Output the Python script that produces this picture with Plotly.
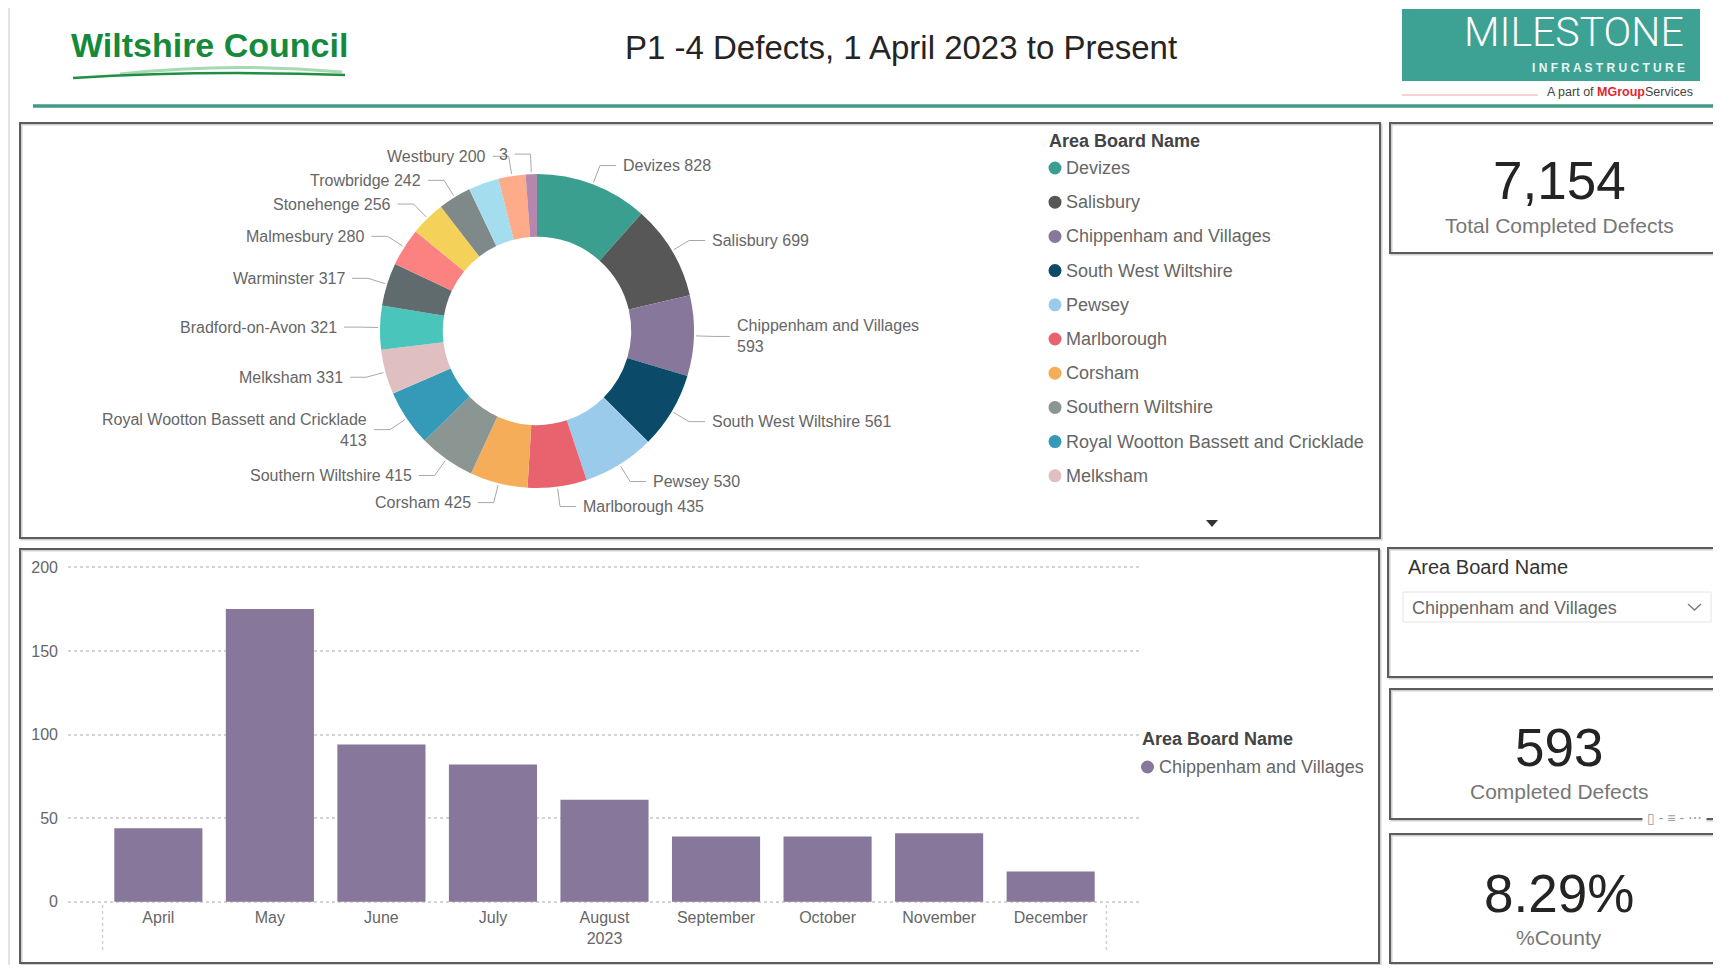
import math
import plotly.graph_objects as go

# Page is photographed at 1721x973; the default body margin (8px) is kept,
# so the figure is sized to fit inside it exactly.
PAGE_W, PAGE_H = 1721, 973
OX, OY = 8, 8
W, H = PAGE_W - 2 * OX, PAGE_H - 2 * OY

# ---------------- data ----------------
area_names = [
    "Devizes", "Salisbury", "Chippenham and Villages", "South West Wiltshire",
    "Pewsey", "Marlborough", "Corsham", "Southern Wiltshire",
    "Royal Wootton Bassett and Cricklade", "Melksham", "Bradford-on-Avon",
    "Warminster", "Malmesbury", "Stonehenge", "Trowbridge", "Calne",
    "Westbury", "Tidworth",
]
area_defects = [828, 699, 593, 561, 530, 435, 425, 415, 413, 331, 321, 317,
                280, 256, 242, 225, 200, 83]
area_colors = [
    "#3B9F8F", "#575757", "#87789B", "#0C4A6A", "#9BCBEB", "#E9636E",
    "#F5AD5A", "#8B9692", "#3599B8", "#DFBFBF", "#4AC5BB", "#5F6B6D",
    "#FB8281", "#F4D25A", "#7F898A", "#A4DDEE", "#FDAB89", "#B687AC",
]
hidden_labels = ["Calne"]
label_text_override = {"Tidworth": "3"}
legend_visible_count = 10

months = ["April", "May", "June", "July", "August", "September",
          "October", "November", "December"]
month_ticktext = ["April", "May", "June", "July", "August<br>2023",
                  "September", "October", "November", "December"]
chippenham_monthly = [44, 175, 94, 82, 61, 39, 39, 41, 18]
y_tickvals = [0, 50, 100, 150, 200]

selected_area = "Chippenham and Villages"

# ---------------- helpers ----------------
FONT = "Liberation Sans, Arial, sans-serif"
BAR_COLOR = "#87789B"
LABEL_GREY = "#666666"
DARK = "#252423"


def fx(x):
    return (x - OX) / W


def fy(y):
    return 1 - (y - OY) / H


shapes = []
annotations = []


def rect(x0, y0, x1, y1, color, width=1, fill="rgba(0,0,0,0)"):
    shapes.append(dict(type="rect", xref="paper", yref="paper",
                       x0=fx(x0), x1=fx(x1), y0=fy(y1), y1=fy(y0),
                       line=dict(color=color, width=width), fillcolor=fill,
                       layer="above"))


def line(x0, y0, x1, y1, color, width=1, dash=None):
    shapes.append(dict(type="line", xref="paper", yref="paper",
                       x0=fx(x0), x1=fx(x1), y0=fy(y0), y1=fy(y1),
                       line=dict(color=color, width=width, dash=dash),
                       layer="above"))


def path(points, color, width=1, fill=None, closed=False):
    d = "M " + " L ".join(f"{fx(x):.6f},{fy(y):.6f}" for x, y in points)
    if closed:
        d += " Z"
    shapes.append(dict(type="path", xref="paper", yref="paper", path=d,
                       line=dict(color=color, width=width),
                       fillcolor=fill or "rgba(0,0,0,0)", layer="above"))


def qpath(p0, pc, p1, color, width):
    d = (f"M {fx(p0[0]):.6f},{fy(p0[1]):.6f} Q {fx(pc[0]):.6f},{fy(pc[1]):.6f} "
         f"{fx(p1[0]):.6f},{fy(p1[1]):.6f}")
    shapes.append(dict(type="path", xref="paper", yref="paper", path=d,
                       line=dict(color=color, width=width), layer="above"))


def dot(cx, cy, r, color):
    shapes.append(dict(type="circle", xref="paper", yref="paper",
                       x0=fx(cx - r), x1=fx(cx + r), y0=fy(cy + r), y1=fy(cy - r),
                       fillcolor=color, line=dict(width=0), layer="above"))


def text(x, y, s, size, color, xanchor="center", yanchor="middle",
         bold=False, family=FONT, align=None, bgcolor=None, weight=None):
    annotations.append(dict(
        xref="paper", yref="paper", x=fx(x), y=fy(y), text=s,
        showarrow=False, xanchor=xanchor, yanchor=yanchor, borderpad=0,
        align=align or ("left" if xanchor == "left" else
                        "right" if xanchor == "right" else "center"),
        bgcolor=bgcolor,
        font=dict(size=size, color=color, family=family,
                  weight=weight or ("bold" if bold else "normal"))))


def panel(x0, y0, x1, y1):
    rect(x0 + 1.5, y0 + 1.5, x1 + 1.5, y1 + 1.5, "#d0d0d0", 2)
    rect(x0, y0, x1, y1, "#5c5c5c", 2)


fig = go.Figure()

# ---------------- header ----------------
line(9, 0, 9, PAGE_H, "#e4e4e4", 2)
text(209, 45, "Wiltshire Council", 34, "#168A3B", bold=True)
qpath((120, 74), (230, 62), (342, 72), "#a9d9b2", 3)
qpath((73, 78), (200, 70), (345, 75), "#1f8f43", 2.5)
text(901, 48, "P1 -4 Defects, 1 April 2023 to Present", 33, DARK)

rect(1402, 9, 1700, 81, "#3DA294", 0, fill="#3DA294")
text(1574, 32, "MILESTONE", 41, "white", family="Roboto, Liberation Sans",
     weight=300)
text(1608, 68, "I N F R A S T R U C T U R E", 12, "#e8f5f2", bold=True)
line(1402, 95, 1538, 95, "#F3A3A3", 1)
text(1620, 92,
     "A part of <b><span style='color:#E3262E'>MGroup</span></b>Services",
     12.5, "#444444")
line(33, 106, 1714, 106, "#3F9A8A", 3.5)

# ---------------- panels ----------------
panel(20, 123, 1380, 538)
panel(20, 549, 1379, 963)
panel(1390, 123, 1732, 253)
panel(1388, 548, 1732, 677)
panel(1390, 689, 1732, 819)
panel(1390, 834, 1732, 963)

# ---------------- donut ----------------
CX, CY, R = 537, 331, 157
R_ELBOW = 177
fig.add_trace(go.Pie(
    labels=area_names, values=area_defects,
    marker=dict(colors=area_colors, line=dict(width=0)),
    hole=0.6, sort=False, direction="clockwise", rotation=0,
    textinfo="none", showlegend=False,
    domain=dict(x=[fx(CX - R), fx(CX + R)], y=[fy(CY + R), fy(CY - R)]),
    hovertemplate="%{label}: %{value}<extra></extra>",
))

total = sum(area_defects)
cum = 0
for name, v in zip(area_names, area_defects):
    mid = (cum + v / 2) / total * 2 * math.pi
    cum += v
    if name in hidden_labels:
        continue
    s, c = math.sin(mid), math.cos(mid)
    ax_, ay_ = CX + (R + 2) * s, CY - (R + 2) * c
    ex, ey = CX + R_ELBOW * s, CY - R_ELBOW * c
    side = 1 if s >= 0 else -1
    path([(ax_, ay_), (ex, ey), (ex + side * 16, ey)], "#a8a8a8", 1)
    if name in label_text_override:
        lab = label_text_override[name]
    elif len(name) > 21:
        lab = f"{name}<br>{v}"
    else:
        lab = f"{name} {v}"
    text(ex + side * 22, ey, lab, 16, LABEL_GREY,
         xanchor="left" if side > 0 else "right")

# donut legend
text(1048, 141, "Area Board Name", 18, "#444444", xanchor="left", bold=True)
for i in range(legend_visible_count):
    yy = 168 + i * 34.2
    dot(1055, yy, 6.5, area_colors[i])
    text(1065, yy, area_names[i], 18, LABEL_GREY, xanchor="left")
path([(1206, 520), (1218, 520), (1212, 527)], "#333333", 0, fill="#333333",
     closed=True)

# ---------------- bar chart ----------------
Y0_PX, PX_PER_UNIT = 901.7, 1.672
Y_LO, Y_HI = -1.8, 201.8
fig.add_trace(go.Bar(
    x=months, y=chippenham_monthly, name=selected_area,
    marker=dict(color=BAR_COLOR, line=dict(width=0)), width=0.79,
    showlegend=False, xaxis="x", yaxis="y",
    hovertemplate="%{x}: %{y}<extra></extra>",
))
for xb in (-0.5, len(months) - 0.5):
    shapes.append(dict(type="line", xref="x", yref="paper", x0=xb, x1=xb,
                       y0=fy(950), y1=fy(902),
                       line=dict(color="#d0d0d0", width=1.5, dash="dot"),
                       layer="above"))

text(1141, 739, "Area Board Name", 18, "#444444", xanchor="left", bold=True)
dot(1147.5, 767, 6.5, BAR_COLOR)
text(1158, 767, selected_area, 18, LABEL_GREY, xanchor="left")

# ---------------- cards ----------------
sel_value = area_defects[area_names.index(selected_area)]
text(1559, 181, f"{total:,}", 53, DARK)
text(1559, 225, "Total Completed Defects", 21, "#777777")

text(1407, 567, "Area Board Name", 20, "#333333", xanchor="left")
rect(1403, 592, 1711, 622, "#e4e4e4", 1)
text(1411, 608, selected_area, 18, LABEL_GREY, xanchor="left")
path([(1688, 604), (1694.5, 610), (1701, 604)], "#777777", 1.3)

text(1559, 747, f"{sel_value}", 53, DARK)
text(1559, 791, "Completed Defects", 21, "#777777")
text(1674, 818, " ▯ - ≡ - ⋯ ", 14, "#9a9a9a", bgcolor="white")

text(1559, 893, f"{sel_value / total * 100:.2f}%", 53, DARK)
text(1559, 937, "%County", 21, "#777777")

# ---------------- layout ----------------
fig.update_layout(
    width=W, height=H, autosize=False,
    margin=dict(l=0, r=0, t=0, b=0),
    paper_bgcolor="white", plot_bgcolor="rgba(0,0,0,0)",
    font=dict(family=FONT, color=LABEL_GREY),
    showlegend=False,
    xaxis=dict(domain=[fx(68), fx(1141)], type="category",
               categoryorder="array", categoryarray=months,
               range=[-0.81, len(months) - 0.19],
               tickvals=months, ticktext=month_ticktext,
               showgrid=False, zeroline=False, showline=False, ticks="",
               ticklabelstandoff=1, automargin=False,
               tickfont=dict(size=16, color=LABEL_GREY), anchor="y"),
    yaxis=dict(domain=[fy(Y0_PX - Y_LO * PX_PER_UNIT),
                       fy(Y0_PX - Y_HI * PX_PER_UNIT)],
               range=[Y_LO, Y_HI],
               tickvals=y_tickvals, showgrid=True, gridcolor="#d4d4d4",
               griddash="dot", gridwidth=1.5, zeroline=False, showline=False,
               ticks="", ticklabelstandoff=9, automargin=False,
               tickfont=dict(size=16, color=LABEL_GREY), anchor="x"),
    shapes=shapes,
    annotations=annotations,
)

fig.write_html("out.html", config={"displayModeBar": False})
